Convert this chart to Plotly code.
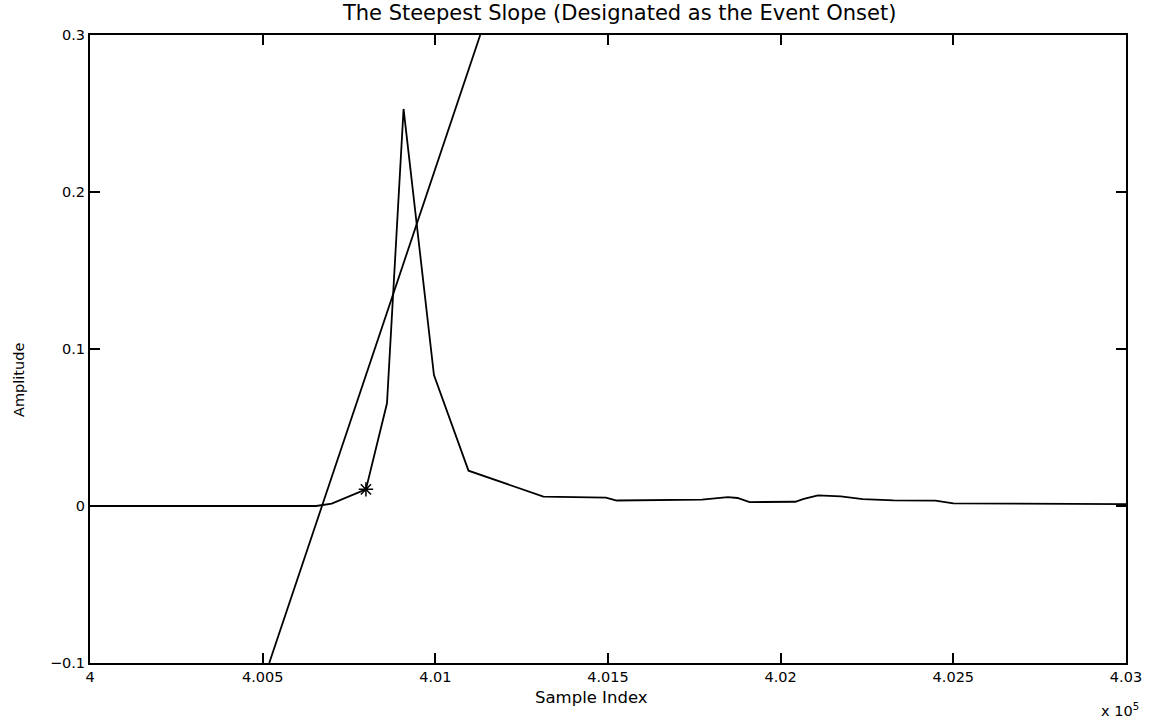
import plotly.graph_objects as go

# Signal samples (sample index, amplitude)
sample_idx = [400000, 400200, 400400, 400655, 400700, 400799, 400860, 400908,
              400996, 401096, 401313, 401494, 401525, 401772, 401847, 401875,
              401910, 402042, 402067, 402108, 402174, 402238, 402327, 402448,
              402500, 403000]
amplitude = [0.0, 0.0, 0.0, 0.0, 0.0015, 0.0106, 0.0654, 0.2529,
             0.0834, 0.0225, 0.0060, 0.0053, 0.0035, 0.0041, 0.0056, 0.0051,
             0.0025, 0.0027, 0.0046, 0.0068, 0.0061, 0.0044, 0.0036, 0.0034,
             0.0017, 0.0012]

# Steepest-slope line endpoints
slope_x = [400519, 401130]
slope_y = [-0.1, 0.3]

# Event onset marker
onset_x = [400799]
onset_y = [0.0106]

x_tickvals = [400000, 400500, 401000, 401500, 402000, 402500, 403000]
x_ticktext = ["4", "4.005", "4.01", "4.015", "4.02", "4.025", "4.03"]
y_tickvals = [-0.1, 0, 0.1, 0.2, 0.3]
y_ticktext = ["\u22120.1", "0", "0.1", "0.2", "0.3"]

FONT = "DejaVu Sans, Liberation Sans, Arial, sans-serif"

L, R, T, B = 90, 28, 35, 60
PW, PH = 1154 - L - R, 723 - T - B

def px(x):
    return (x - L) / PW

def py(y):
    return (723 - B - y) / PH

fig = go.Figure()
fig.add_trace(go.Scatter(x=sample_idx, y=amplitude, mode="lines",
                         line=dict(color="black", width=1.8), showlegend=False))
fig.add_trace(go.Scatter(x=slope_x, y=slope_y, mode="lines",
                         line=dict(color="black", width=1.8), showlegend=False))
fig.add_trace(go.Scatter(x=onset_x, y=onset_y, mode="markers",
                         marker=dict(symbol="asterisk-open", size=12, color="black",
                                     line=dict(color="black", width=1.5)),
                         showlegend=False))

fig.update_layout(
    width=1154, height=723,
    margin=dict(l=L, r=R, t=T, b=B),
    paper_bgcolor="white", plot_bgcolor="white",
    font=dict(family=FONT, size=14, color="black"),
    title=dict(text="The Steepest Slope (Designated as the Event Onset)",
               x=590 / 1154, xref="paper", xanchor="center",
               y=1 - 13 / 723, yanchor="middle", font=dict(size=21)),
    xaxis=dict(range=[400000, 403000], tickvals=x_tickvals, ticktext=x_ticktext,
               ticks="inside", ticklen=10, tickwidth=1.5, tickcolor="black",
               showline=True, linecolor="black", linewidth=2, mirror="ticks",
               showgrid=False, zeroline=False, tickfont=dict(size=14.5)),
    yaxis=dict(range=[-0.1, 0.3], tickvals=y_tickvals, ticktext=y_ticktext,
               ticks="inside", ticklen=10, tickwidth=1.5, tickcolor="black",
               showline=True, linecolor="black", linewidth=2, mirror="ticks",
               showgrid=False, zeroline=False, tickfont=dict(size=14.5)),
    annotations=[
        dict(text="Sample Index", xref="paper", yref="paper",
             x=px(591), y=py(697), xanchor="center", yanchor="middle",
             showarrow=False, font=dict(size=16.5)),
        dict(text="Amplitude", xref="paper", yref="paper", textangle=-90,
             x=px(19), y=py(380), xanchor="center", yanchor="middle",
             showarrow=False, font=dict(size=14.5)),
        dict(text="x 10<sup>5</sup>", xref="paper", yref="paper",
             x=px(1120), y=py(710), xanchor="center", yanchor="middle",
             showarrow=False, font=dict(size=14.5)),
    ],
)

fig.write_html("out.html")
